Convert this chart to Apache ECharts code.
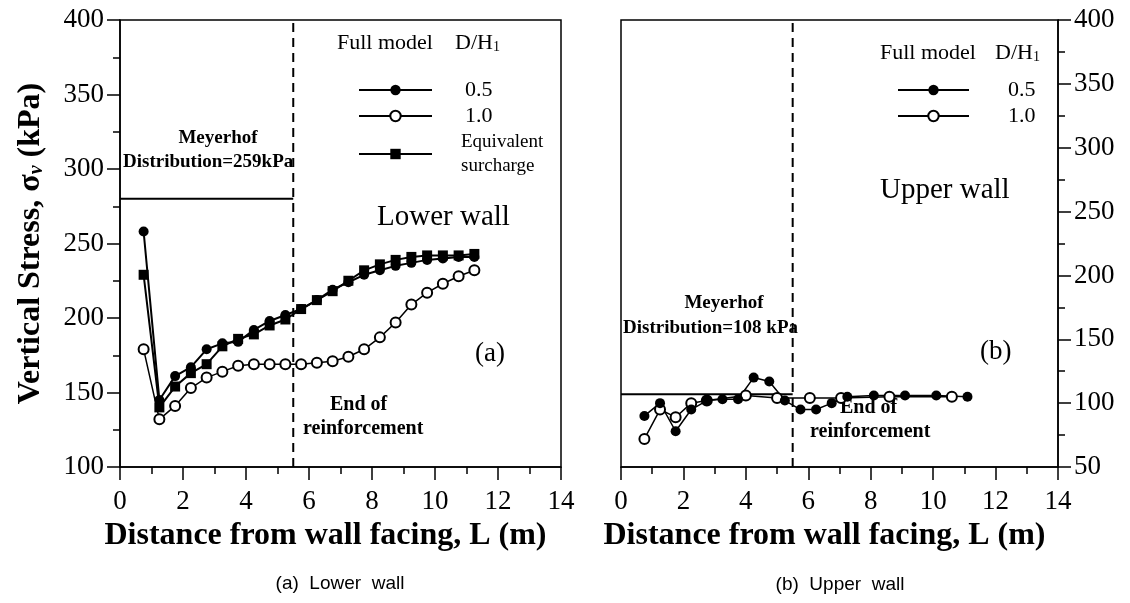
<!DOCTYPE html>
<html><head><meta charset="utf-8">
<script src="https://cdn.jsdelivr.net/npm/echarts@6/dist/echarts.min.js"></script>
<style>html,body{margin:0;padding:0;background:#fff}#c{width:1130px;height:603px}</style>
</head><body><div id="c"></div>
<script>
// ---- data ----
const lowerX = [0.75,1.25,1.75,2.25,2.75,3.25,3.75,4.25,4.75,5.25,5.75,6.25,6.75,7.25,7.75,8.25,8.75,9.25,9.75,10.25,10.75,11.25];
const lowerFull05 = [258,145,161,167,179,183,184,192,198,202,206,212,219,224,229,232,235,237,239,240,241,241];
const lowerFull10 = [179,132,141,153,160,164,168,169,169,169,169,170,171,174,179,187,197,209,217,223,228,232];
const lowerEquiv  = [229,140,154,163,169,181,186,189,195,199,206,212,218,225,232,236,239,241,242,242,242,243];
const upperX05 = [0.75,1.25,1.75,2.25,2.75,3.25,3.75,4.25,4.75,5.25,5.75,6.25,6.75,7.25,8.1,9.1,10.1,11.1];
const upperFull05 = [90,100,78,95,102,103,103,120,117,102,95,95,100,105,106,106,106,105];
const upperX10 = [0.75,1.25,1.75,2.25,2.75,4.0,5.0,6.05,7.05,8.6,10.6];
const upperFull10 = [72,95,89,100,102,106,104,104,104,105,105];
const meyerhofLower = 280;   // level of the drawn Meyerhof line (lower wall)
const meyerhofUpper = 107;   // level of the drawn Meyerhof line (upper wall)
const reinforcementEnd = 5.5;
const xRange = [0, 14], xStep = 2;
const yLowerRange = [100, 400], yUpperRange = [50, 400], yStep = 50;

const serif = '"Liberation Serif", "Times New Roman", serif';
const pts = (xs, ys) => xs.map((x, i) => [x, ys[i]]);

function xAxis(gi, name, nameGap) {
  return {
    type: 'value', gridIndex: gi, min: xRange[0], max: xRange[1], interval: xStep,
    axisLine: {show: true, onZero: false, lineStyle: {color: '#000', width: 1.5}},
    axisTick: {show: true, inside: false, length: 13, lineStyle: {color: '#000', width: 1.5}},
    minorTick: {show: true, splitNumber: 2, length: 7, lineStyle: {color: '#000', width: 1.5}},
    splitLine: {show: false}, minorSplitLine: {show: false},
    axisLabel: {color: '#000', fontFamily: serif, fontSize: 27, margin: 21},
    name: name, nameLocation: 'middle', nameGap: nameGap,
    nameTextStyle: {color: '#000', fontFamily: serif, fontWeight: 'bold', fontSize: 32, padding: [0, 30, 0, 0]}
  };
}
function yAxis(gi, range, pos, opts) {
  return Object.assign({
    type: 'value', gridIndex: gi, min: range[0], max: range[1], interval: yStep, position: pos,
    axisLine: {show: true, onZero: false, lineStyle: {color: '#000', width: 1.5}},
    axisTick: {show: true, inside: false, length: 13, lineStyle: {color: '#000', width: 1.5}},
    minorTick: {show: true, splitNumber: 2, length: 7, lineStyle: {color: '#000', width: 1.5}},
    splitLine: {show: false}, minorSplitLine: {show: false},
    axisLabel: {color: '#000', fontFamily: serif, fontSize: 27, margin: 16}
  }, opts || {});
}

const lineBase = (name, xi, data, symbol, size, width) => ({
  name: name, type: 'line', xAxisIndex: xi, yAxisIndex: xi, data: data,
  symbol: symbol, symbolSize: size, showSymbol: true,
  lineStyle: {color: '#000', width: width},
  itemStyle: {color: '#000', borderColor: '#000', borderWidth: symbol === 'emptyCircle' ? 1 : 0},
  animation: false, silent: true, z: 3
});
const refLine = (xi, data, dashed) => ({
  type: 'line', xAxisIndex: xi, yAxisIndex: xi, data: data, symbol: 'none',
  lineStyle: {color: '#000', width: 2, type: dashed ? [9, 6] : 'solid'},
  animation: false, silent: true, z: 2
});

const legendText = {color: '#000', fontFamily: serif, fontSize: 22, lineHeight: 24};

const option = {
  backgroundColor: '#fff',
  animation: false,
  grid: [
    {left: 120, right: 569, top: 20, bottom: 136, show: true, borderColor: '#000', borderWidth: 1.5},
    {left: 621, right: 72, top: 20, bottom: 136, show: true, borderColor: '#000', borderWidth: 1.5}
  ],
  xAxis: [
    xAxis(0, 'Distance from wall facing, L (m)', 52),
    xAxis(1, 'Distance from wall facing, L (m)', 52)
  ],
  yAxis: [
    yAxis(0, yLowerRange, 'left', {
      name: 'Vertical Stress, σ{v|v} (kPa)', nameLocation: 'middle', nameGap: 73,
      nameTextStyle: {color: '#000', fontFamily: serif, fontWeight: 'bold', fontSize: 32,
        rich: {v: {fontFamily: serif, fontStyle: 'italic', fontWeight: 'bold', fontSize: 20, padding: [12, 0, 0, 0]}}}
    }),
    yAxis(1, yUpperRange, 'right')
  ],
  legend: [
    {
      left: 353, top: 73, orient: 'vertical', itemWidth: 73, itemHeight: 13, itemGap: 2,
      selectedMode: false, textStyle: Object.assign({padding: [0, 0, 0, 28]}, legendText),
      data: [
        {name: '0.5'}, {name: '1.0'},
        {name: 'Equivalent\nsurcharge', textStyle: {fontSize: 19, lineHeight: 24, padding: [0, 0, 0, 24]}}
      ]
    },
    {
      left: 892, top: 73, orient: 'vertical', itemWidth: 71, itemHeight: 13, itemGap: 2,
      selectedMode: false, textStyle: Object.assign({padding: [0, 0, 0, 34]}, legendText),
      data: [{name: '0.5'}, {name: '1.0'}]
    }
  ],
  series: [
    refLine(0, [[xRange[0], meyerhofLower], [reinforcementEnd, meyerhofLower]], false),
    refLine(0, [[reinforcementEnd, yLowerRange[0]], [reinforcementEnd, yLowerRange[1]]], true),
    refLine(1, [[xRange[0], meyerhofUpper], [reinforcementEnd, meyerhofUpper]], false),
    refLine(1, [[reinforcementEnd, yUpperRange[0]], [reinforcementEnd, yUpperRange[1]]], true),
    lineBase('1.0', 0, pts(lowerX, lowerFull10), 'emptyCircle', 10, 1.5),
    lineBase('Equivalent\nsurcharge', 0, pts(lowerX, lowerEquiv), 'rect', 10, 2),
    lineBase('0.5', 0, pts(lowerX, lowerFull05), 'circle', 10, 2),
    lineBase('1.0', 1, pts(upperX10, upperFull10), 'emptyCircle', 10, 1.5),
    lineBase('0.5', 1, pts(upperX05, upperFull05), 'circle', 10, 1.5)
  ],
  graphic: [
    {type: 'text', x: 337, y: 43, style: {text: 'Full model', font: '22px ' + serif, fill: '#000', verticalAlign: 'middle'}},
    {type: 'text', x: 455, y: 43, style: {text: 'D/H{s|1}', font: '22px ' + serif, fill: '#000', verticalAlign: 'middle',
      rich: {s: {fontSize: 14, fontFamily: serif, padding: [9, 0, 0, 0]}}}},
    {type: 'text', x: 880, y: 53, style: {text: 'Full model', font: '22px ' + serif, fill: '#000', verticalAlign: 'middle'}},
    {type: 'text', x: 995, y: 53, style: {text: 'D/H{s|1}', font: '22px ' + serif, fill: '#000', verticalAlign: 'middle',
      rich: {s: {fontSize: 14, fontFamily: serif, padding: [9, 0, 0, 0]}}}},
    {type: 'text', x: 218, y: 138, style: {text: 'Meyerhof', font: 'bold 19px ' + serif, fill: '#000', align: 'center', verticalAlign: 'middle'}},
    {type: 'text', x: 123, y: 162, style: {text: 'Distribution=259kPa', font: 'bold 19px ' + serif, fill: '#000', verticalAlign: 'middle'}},
    {type: 'text', x: 377, y: 217, style: {text: 'Lower wall', font: '29px ' + serif, fill: '#000', verticalAlign: 'middle'}},
    {type: 'text', x: 475, y: 354, style: {text: '(a)', font: '27px ' + serif, fill: '#000', verticalAlign: 'middle'}},
    {type: 'text', x: 330, y: 405, style: {text: 'End of', font: 'bold 20px ' + serif, fill: '#000', verticalAlign: 'middle'}},
    {type: 'text', x: 303, y: 429, style: {text: 'reinforcement', font: 'bold 20px ' + serif, fill: '#000', verticalAlign: 'middle'}},
    {type: 'text', x: 880, y: 190, style: {text: 'Upper wall', font: '29px ' + serif, fill: '#000', verticalAlign: 'middle'}},
    {type: 'text', x: 724, y: 303, style: {text: 'Meyerhof', font: 'bold 19px ' + serif, fill: '#000', align: 'center', verticalAlign: 'middle'}},
    {type: 'text', x: 623, y: 328, style: {text: 'Distribution=108 kPa', font: 'bold 19px ' + serif, fill: '#000', verticalAlign: 'middle'}},
    {type: 'text', x: 980, y: 352, style: {text: '(b)', font: '27px ' + serif, fill: '#000', verticalAlign: 'middle'}},
    {type: 'text', x: 840, y: 408, style: {text: 'End of', font: 'bold 20px ' + serif, fill: '#000', verticalAlign: 'middle'}},
    {type: 'text', x: 810, y: 432, style: {text: 'reinforcement', font: 'bold 20px ' + serif, fill: '#000', verticalAlign: 'middle'}},
    {type: 'text', x: 340, y: 584, style: {text: '(a)  Lower  wall', font: '19px "Liberation Sans", "DejaVu Sans", sans-serif', fill: '#000', align: 'center', verticalAlign: 'middle'}},
    {type: 'text', x: 840, y: 585, style: {text: '(b)  Upper  wall', font: '19px "Liberation Sans", "DejaVu Sans", sans-serif', fill: '#000', align: 'center', verticalAlign: 'middle'}}
  ]
};
echarts.init(document.getElementById('c')).setOption(option);
</script>
</body></html>
